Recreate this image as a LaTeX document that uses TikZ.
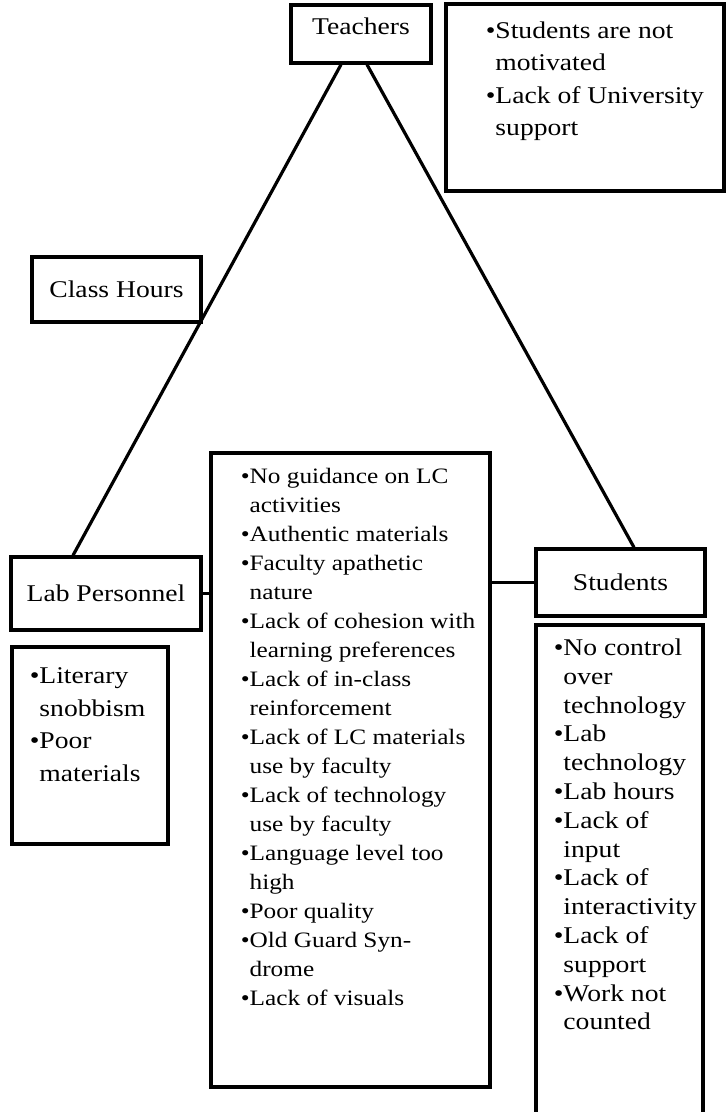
\documentclass[tikz,border=0pt]{standalone}
\usepackage{fontspec}
\setmainfont{Liberation Serif}[FakeStretch=1.15]

\newcommand{\blt}{\textbullet}
\tikzset{
	box/.style={draw, line width=1.6pt, inner sep=0pt, font=\fontsize{12}{14}\selectfont},
	link/.style={line width=1.6pt},
	note/.style={inner sep=0pt, anchor=base west, align=left}
}

\begin{document}
\begin{tikzpicture}[x=0.5pt, y=-0.5pt]
	\useasboundingbox (0,0) rectangle (727,1112);
	
	\node[box, minimum width=70pt, minimum height=29pt, text depth=7.5pt] (teach) at (361,34) {Teachers};
	\node[box, minimum width=139pt, minimum height=93.5pt] (top) at (585,97.5) {};
	\node[box, minimum width=84.5pt, minimum height=32.5pt] (hours) at (116.5,289.5) {Class Hours};
	\node[box, minimum width=95pt, minimum height=36.5pt] (lab) at (106,593.5) {Lab Personnel};
	\node[box, minimum width=78pt, minimum height=98.5pt] (labnote) at (90,745.5) {};
	\node[box, minimum width=139.5pt, minimum height=317pt] (mid) at (350.5,770) {};
	\node[box, minimum width=84.5pt, minimum height=33.5pt] (stud) at (620.5,582.5) {Students};
	\node[box, minimum width=83.5pt, minimum height=250pt] (studnote) at (619.5,875) {};
	
	\node[note, font=\fontsize{12}{16.25}\selectfont] (toptxt) at ([shift={(41,36)}]top.north west)
	{\begin{tabular}[t]{@{}l@{}l@{}}
		\blt & Students are not\\ & motivated\\
		\blt & Lack of University\\ & support
	\end{tabular}};
	\node[note, font=\fontsize{11}{14.5}\selectfont] (midtxt) at ([shift={(31,32)}]mid.north west)
	{\begin{tabular}[t]{@{}l@{}l@{}}
		\blt & No guidance on LC\\ & activities\\
		\blt & Authentic materials\\
		\blt & Faculty apathetic\\ & nature\\
		\blt & Lack of cohesion with\\ & learning preferences\\
		\blt & Lack of in-class\\ & reinforcement\\
		\blt & Lack of LC materials\\ & use by faculty\\
		\blt & Lack of technology\\ & use by faculty\\
		\blt & Language level too\\ & high\\
		\blt & Poor quality\\
		\blt & Old Guard Syn-\\ & drome\\
		\blt & Lack of visuals
	\end{tabular}};
	\node[note, font=\fontsize{12}{16.3}\selectfont] (labtxt) at ([shift={(19,38)}]labnote.north west)
	{\begin{tabular}[t]{@{}l@{}l@{}}
		\blt & Literary\\ & snobbism\\
		\blt & Poor\\ & materials
	\end{tabular}};
	\node[note, font=\fontsize{12}{14.4}\selectfont] (studtxt) at ([shift={(19,32)}]studnote.north west)
	{\begin{tabular}[t]{@{}l@{}l@{}}
		\blt & No control\\ & over\\ & technology\\
		\blt & Lab\\ & technology\\
		\blt & Lab hours\\
		\blt & Lack of\\ & input\\
		\blt & Lack of\\ & interactivity\\
		\blt & Lack of\\ & support\\
		\blt & Work not\\ & counted
	\end{tabular}};
	
	\draw[link] ([xshift=-10pt]teach.south) -- ([xshift=-16.5pt]lab.north);
	\draw[link] ([xshift=3pt]teach.south) -- ([xshift=6.75pt]stud.north);
	\draw[link] (lab.east) -- (lab.east -| mid.west);
	\draw[link] (stud.west -| mid.east) -- (stud.west);
\end{tikzpicture}
\end{document}
